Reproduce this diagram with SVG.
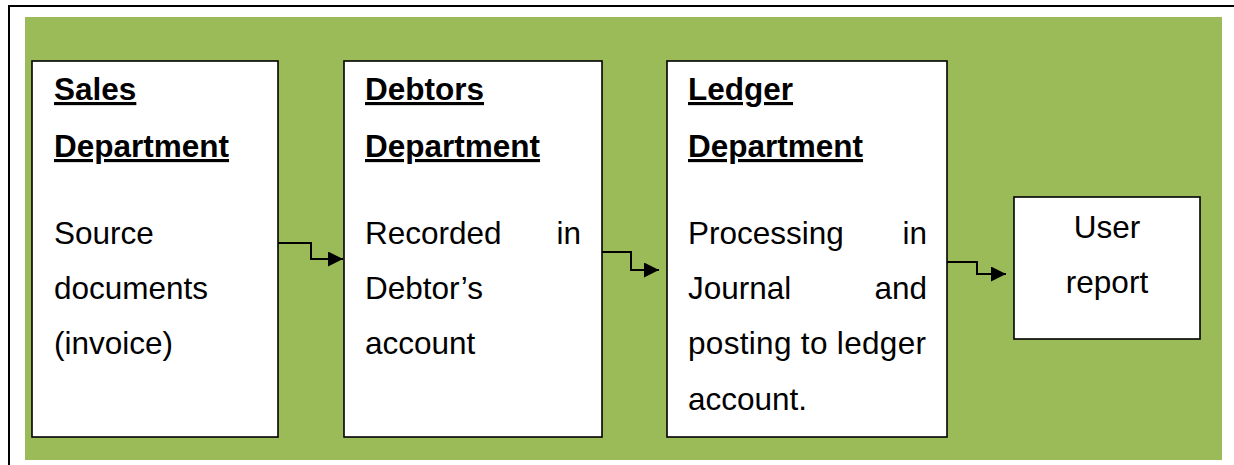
<svg xmlns="http://www.w3.org/2000/svg" width="1234" height="465" viewBox="0 0 1234 465">
  <style>
    .frame { fill: #ffffff; stroke: #000000; stroke-width: 2; }
    .panel { fill: #9bbb59; }
    .box { fill: #ffffff; stroke: #000000; stroke-width: 1.6; }
    .head { font-family: "Liberation Sans", Arial, sans-serif; font-size: 31.5px; font-weight: bold; fill: #000000; text-decoration: underline; }
    .body { font-family: "Liberation Sans", Arial, sans-serif; font-size: 31.5px; fill: #000000; }
    .end { text-anchor: end; }
    .mid { text-anchor: middle; }
    .link { fill: none; stroke: #000000; stroke-width: 2; marker-end: url(#arrow); }
  </style>
  <defs>
    <marker id="arrow" markerUnits="userSpaceOnUse" markerWidth="16" markerHeight="16" refX="15" refY="7.5" orient="auto">
      <path d="M0,0 L15,7.5 L0,15 Z" fill="#000000"/>
    </marker>
  </defs>

  <!-- outer page frame and green backdrop -->
  <rect class="frame" x="9" y="6" width="1240" height="470"/>
  <rect class="panel" x="25" y="17" width="1197" height="443"/>

  <!-- connectors -->
  <g id="connectors">
    <path class="link" d="M278,243 H311 V259 H343"/>
    <path class="link" d="M602,252 H631 V270 H659"/>
    <path class="link" d="M947,262 H977 V274 H1006"/>
  </g>

  <g id="sales">
    <rect class="box" x="32" y="61" width="246" height="376"/>
    <text class="head" x="54" y="100">Sales</text>
    <text class="head" x="54" y="157">Department</text>
    <text class="body" x="54" y="244">Source</text>
    <text class="body" x="54" y="299">documents</text>
    <text class="body" x="54" y="354">(invoice)</text>
  </g>

  <g id="debtors">
    <rect class="box" x="344" y="61" width="258" height="376"/>
    <text class="head" x="365" y="100">Debtors</text>
    <text class="head" x="365" y="157">Department</text>
    <text class="body" x="365" y="244">Recorded</text>
    <text class="body end" x="581" y="244">in</text>
    <text class="body" x="365" y="299">Debtor’s</text>
    <text class="body" x="365" y="354">account</text>
  </g>

  <g id="ledger">
    <rect class="box" x="667" y="61" width="280" height="376"/>
    <text class="head" x="688" y="100">Ledger</text>
    <text class="head" x="688" y="157">Department</text>
    <text class="body" x="688" y="244">Processing</text>
    <text class="body end" x="927" y="244">in</text>
    <text class="body" x="688" y="299">Journal</text>
    <text class="body end" x="927" y="299">and</text>
    <text class="body" x="688" y="354" textLength="238" lengthAdjust="spacing">posting to ledger</text>
    <text class="body" x="688" y="410">account.</text>
  </g>

  <g id="report">
    <rect class="box" x="1014" y="197" width="186" height="142"/>
    <text class="body mid" x="1107" y="238">User</text>
    <text class="body mid" x="1107" y="293">report</text>
  </g>
</svg>
